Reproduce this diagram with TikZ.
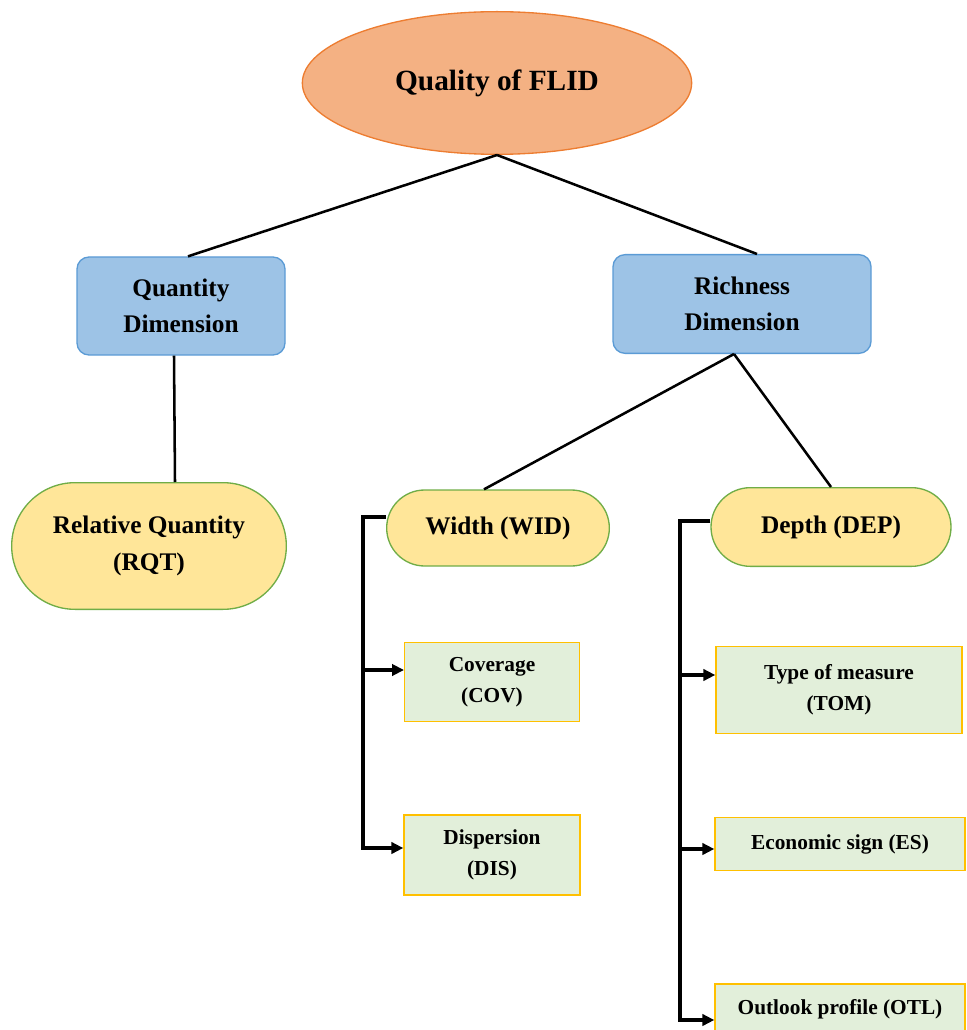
\documentclass[tikz,border=0pt]{standalone}
\usepackage{fontspec}
\setmainfont{Liberation Serif}
\usetikzlibrary{shapes.geometric}
\usetikzlibrary{shapes.misc}
\usetikzlibrary{arrows.meta}
\definecolor{flidfill}{HTML}{F4B183}
\definecolor{flidline}{HTML}{ED7D31}
\definecolor{dimfill}{HTML}{9DC3E6}
\definecolor{dimline}{HTML}{5B9BD5}
\definecolor{subfill}{HTML}{FFE699}
\definecolor{subline}{HTML}{70AD47}
\definecolor{leaffill}{HTML}{E2EFDA}
\definecolor{leafline}{HTML}{FFC000}

\tikzset{
	root/.style={ellipse, draw=flidline, fill=flidfill, line width=1pt,
		minimum width=292pt, minimum height=107pt, inner sep=0pt,
		font=\fontsize{22}{26}\selectfont\bfseries},
	dimbox/.style={rectangle, rounded corners=9pt, draw=dimline, fill=dimfill,
		line width=1pt, align=center, inner sep=0pt,
		font=\fontsize{19}{27}\selectfont\bfseries},
	subbox/.style={rounded rectangle, draw=subline, fill=subfill,
		line width=1pt, align=center, inner sep=0pt,
		font=\fontsize{19}{28}\selectfont\bfseries},
	leafbox/.style={rectangle, draw=leafline, fill=leaffill,
		line width=1pt, align=center, inner sep=0pt,
		font=\fontsize{16}{23}\selectfont\bfseries},
	link/.style={line width=1.9pt},
	arr/.style={line width=2.5pt, -{Triangle[length=9pt,width=8.5pt]}}
}

\begin{document}
\begin{tikzpicture}[x=0.75pt,y=-0.75pt]
			%\draw[help lines] (0,0) grid (966,1030);
			\useasboundingbox (0,0) rectangle (966,1030);
			\clip (0,0) rectangle (966,1030);
			
				\node[root] (flid) at (497,83) {Quality of FLID};
				
				\node[dimbox, minimum width=156pt, minimum height=73.5pt] (qnt) at (181,306) {Quantity\\Dimension};
				\node[dimbox, minimum width=193.5pt, minimum height=74pt] (rich) at (742,304) {Richness\\Dimension};
				
				\node[subbox, minimum width=206pt, minimum height=95pt] (rqt) at (149,546) {Relative Quantity\\(RQT)};
				\node[subbox, minimum width=167pt, minimum height=57pt] (wid) at (498,528) {Width (WID)};
				\node[subbox, minimum width=180pt, minimum height=59pt] (dep) at (831,527) {Depth (DEP)};
				
				\node[leafbox, minimum width=131pt, minimum height=59pt] (cov) at (492,682) {Coverage\\(COV)};
				\node[leafbox, minimum width=132pt, minimum height=60pt] (dis) at (492,855) {Dispersion\\(DIS)};
				
				\node[leafbox, minimum width=184.5pt, minimum height=65pt] (tom) at (839,690) {Type of measure\\(TOM)};
				\node[leafbox, minimum width=187.5pt, minimum height=40pt] (es) at (840,844) {Economic sign (ES)};
				\node[leafbox, minimum width=187.5pt, minimum height=37.5pt] (otl) at (840,1009) {Outlook profile (OTL)};
				
				\draw[link] (flid.south) -- ([xshift=5.25pt]qnt.north);
				\draw[link] (flid.south) -- ([xshift=11.25pt]rich.north);
				\draw[link] ([xshift=-5.25pt]qnt.south) -- ([xshift=19.5pt]rqt.north);
				\draw[link] ([xshift=-6pt]rich.south) -- ([xshift=-10.5pt]wid.north);
				\draw[link] ([xshift=-6pt]rich.south) -- (dep.north);
				
				% width branch
				\coordinate (wtop) at (363,517);
				\coordinate (wbot) at (363,848);
				\draw[arr] (wid.west |- wtop) -- (wtop) -- (wbot) -- (dis.west |- wbot);
				\draw[arr] (363,670) -- (cov.west |- 363,670);
				
				% depth branch
				\coordinate (dtop) at (680,521);
				\coordinate (dbot) at (680,1020);
				\draw[arr] (dep.west |- dtop) -- (dtop) -- (dbot) -- (otl.west |- dbot);
				\draw[arr] (680,675) -- (tom.west |- 680,675);
				\draw[arr] (680,849) -- (es.west |- 680,849);
			
			\end{tikzpicture}
\end{document}
